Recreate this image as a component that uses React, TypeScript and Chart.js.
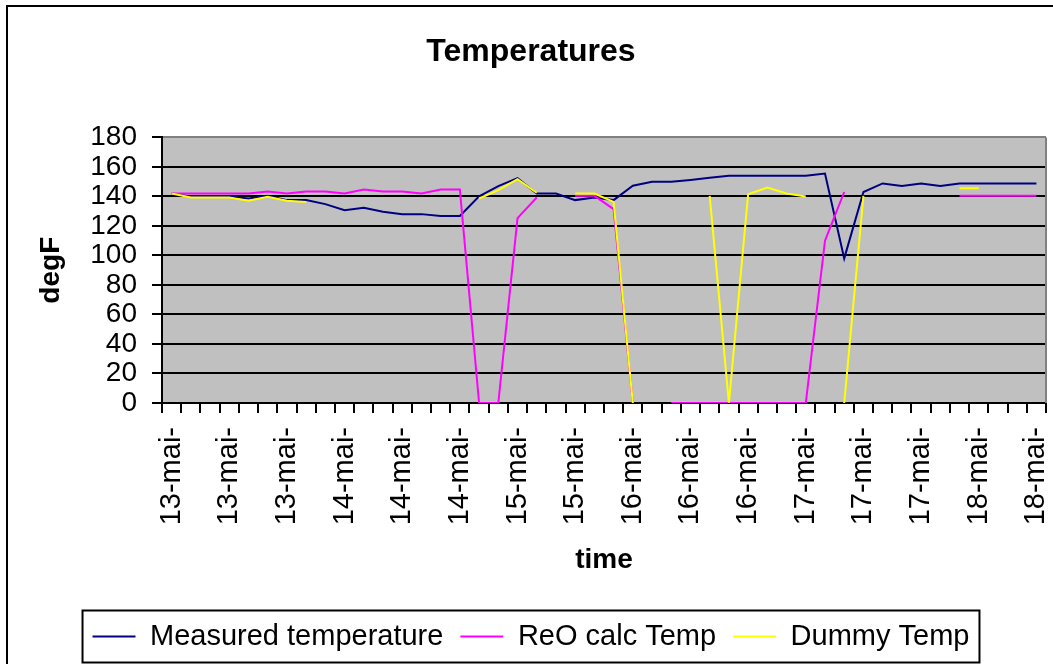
import React, { useEffect, useRef } from 'react';
import { Chart, registerables } from 'chart.js';

Chart.register(...registerables);

const tickLabels = [
  '13-mai-', '13-mai-', '13-mai-', '14-mai-', '14-mai-', '14-mai-', '15-mai-', '15-mai-',
  '16-mai-', '16-mai-', '16-mai-', '17-mai-', '17-mai-', '17-mai-', '18-mai-', '18-mai-',
];
const pointsPerLabel = 3;
const pointCount = 46;

const measured = [
  142, 140, 140, 140, 138.6, 140.4, 137.5, 137.5, 134.8, 130.7,
  132.3, 129.6, 128, 128, 126.7, 126.7, 140, 147, 152.4, 142,
  142, 137.5, 139.3, 137.5, 147.2, 150, 150, 151.2, 152.6, 154,
  154, 154, 154, 154, 155.5, 98, 143, 148.8, 147, 148.8,
  147, 148.8, 148.8, 148.8, 148.8, 148.8,
];
const reoCalc = [
  142, 142, 142, 142, 142, 143.3, 142, 143.3, 143.3, 142,
  144.7, 143.3, 143.3, 142, 144.7, 144.7, 0, 0, 125.3, 139.3,
  null, 140.4, 140.4, 131.4, 0, null, 0, 0, 0, 0,
  0, 0, 0, 0, 110, 143, null, null, null, null,
  null, 140.4, 140.4, 140.4, 140.4, 140.4,
];
const dummy = [
  142, 139.3, 139.3, 139.3, 137, 139.7, 137, 136.3, null, null,
  null, null, null, null, null, null, 138.6, 144.3, 151.7, 142.5,
  null, 142, 142, 136.3, 0, null, null, null, 140.4, 0,
  141.5, 146, 142, 140, null, 0, 140.4, null, null, null,
  null, 145.6, 145.6, null, null, null,
];

const seriesNames = ['Measured temperature', 'ReO calc Temp', 'Dummy Temp'];
const seriesColors = ['#000080', '#FF00FF', '#FFFF00'];

const FONT = "'Liberation Sans', Arial, sans-serif";

const categories = Array.from({ length: pointCount }, (_, i) =>
  i % pointsPerLabel === 0 ? tickLabels[i / pointsPerLabel] : ''
);

const decorPlugin = {
  id: 'decor',
  beforeDraw(chart: any) {
    const { ctx, chartArea: a } = chart;
    ctx.save();
    ctx.fillStyle = '#C0C0C0';
    ctx.fillRect(a.left, a.top, a.right - a.left, a.bottom - a.top);
    ctx.strokeStyle = '#000';
    ctx.lineWidth = 2;
    ctx.strokeRect(7, 6, 3000, 3000);
    ctx.restore();
  },
  beforeDatasetsDraw(chart: any) {
    const { ctx, chartArea: a } = chart;
    ctx.save();
    ctx.strokeStyle = '#808080';
    ctx.lineWidth = 2;
    ctx.beginPath();
    ctx.moveTo(a.right, a.top);
    ctx.lineTo(a.right, a.bottom);
    ctx.stroke();
    ctx.restore();
  },
  afterDraw(chart: any) {
    const lg = chart.legend;
    if (!lg || !lg.legendHitBoxes || !lg.legendHitBoxes.length) return;
    const hb = lg.legendHitBoxes;
    const first = hb[0];
    const last = hb[hb.length - 1];
    const cy = first.top + first.height / 2;
    const ctx = chart.ctx;
    ctx.save();
    ctx.strokeStyle = '#000';
    ctx.lineWidth = 2;
    ctx.strokeRect(first.left - 10, cy - 26, last.left + last.width + 10 - (first.left - 10), 52);
    ctx.restore();
  },
};

export default function App() {
  const ref = useRef<HTMLCanvasElement | null>(null);
  useEffect(() => {
    if (!ref.current) return;
    const chart = new Chart(ref.current, {
      type: 'line',
      data: {
        labels: categories,
        datasets: [measured, reoCalc, dummy].map((d, i) => ({
          label: seriesNames[i],
          data: d,
          borderColor: seriesColors[i],
          backgroundColor: seriesColors[i],
          borderWidth: 2,
          pointRadius: 0,
          pointHoverRadius: 0,
          tension: 0,
          spanGaps: false,
          order: 3 - i,
        })),
      },
      options: {
        responsive: false,
        animation: false,
        devicePixelRatio: 1,
        layout: { padding: { left: 9, right: 0, top: 0, bottom: 3 } },
        plugins: {
          tooltip: { enabled: false },
          title: {
            display: true,
            text: 'Temperatures',
            color: '#000',
            font: { family: FONT, size: 32, weight: 'bold' },
            padding: { top: 33, bottom: 66 },
          },
          legend: {
            position: 'bottom',
            labels: {
              color: '#000',
              font: { family: FONT, size: 29 },
              boxWidth: 43,
              boxHeight: 2,
              padding: 17,
              sort: (a: any, b: any) => a.datasetIndex - b.datasetIndex,
              generateLabels: (chart: any) =>
                Chart.defaults.plugins.legend.labels.generateLabels(chart).map((it: any) => ({
                  ...it,
                  fillStyle: seriesColors[it.datasetIndex],
                  strokeStyle: seriesColors[it.datasetIndex],
                  lineWidth: 0,
                })),
            },
          },
        },
        scales: {
          x: {
            type: 'category',
            offset: true,
            grid: {
              display: true,
              offset: true,
              drawOnChartArea: false,
              drawTicks: true,
              tickLength: 10,
              color: '#000',
              lineWidth: 2,
            },
            border: { display: true, color: '#000', width: 2 },
            ticks: {
              autoSkip: false,
              maxRotation: 90,
              minRotation: 90,
              padding: 14,
              color: '#000',
              font: { family: FONT, size: 29 },
            },
            title: {
              display: true,
              text: 'time',
              color: '#000',
              font: { family: FONT, size: 28, weight: 'bold' },
              padding: { top: 0, bottom: 28 },
            },
            afterFit: (s: any) => {
              s.height = 202;
              s.paddingLeft = 0;
              s.paddingRight = 7;
            },
          },
          y: {
            min: 0,
            max: 180,
            grid: {
              color: (c: any) => (c.tick && c.tick.value === 180 ? '#808080' : '#000'),
              tickColor: '#000',
              lineWidth: 2,
              tickLength: 10,
            },
            border: { display: true, color: '#000', width: 2 },
            ticks: {
              stepSize: 20,
              autoSkip: false,
              padding: 15,
              color: '#000',
              font: { family: FONT, size: 28 },
            },
            title: {
              display: true,
              text: 'degF',
              color: '#000',
              font: { family: FONT, size: 28, weight: 'bold' },
              padding: { top: 25, bottom: 0 },
            },
            afterFit: (s: any) => {
              s.width = 153;
            },
          },
        },
      },
      plugins: [decorPlugin],
    } as any);
    return () => chart.destroy();
  }, []);
  return (
    <div style={{ position: 'absolute', left: 0, top: 0, width: 1053, height: 664, background: '#fff' }}>
      <canvas ref={ref} width={1053} height={664} style={{ display: 'block' }} />
    </div>
  );
}
